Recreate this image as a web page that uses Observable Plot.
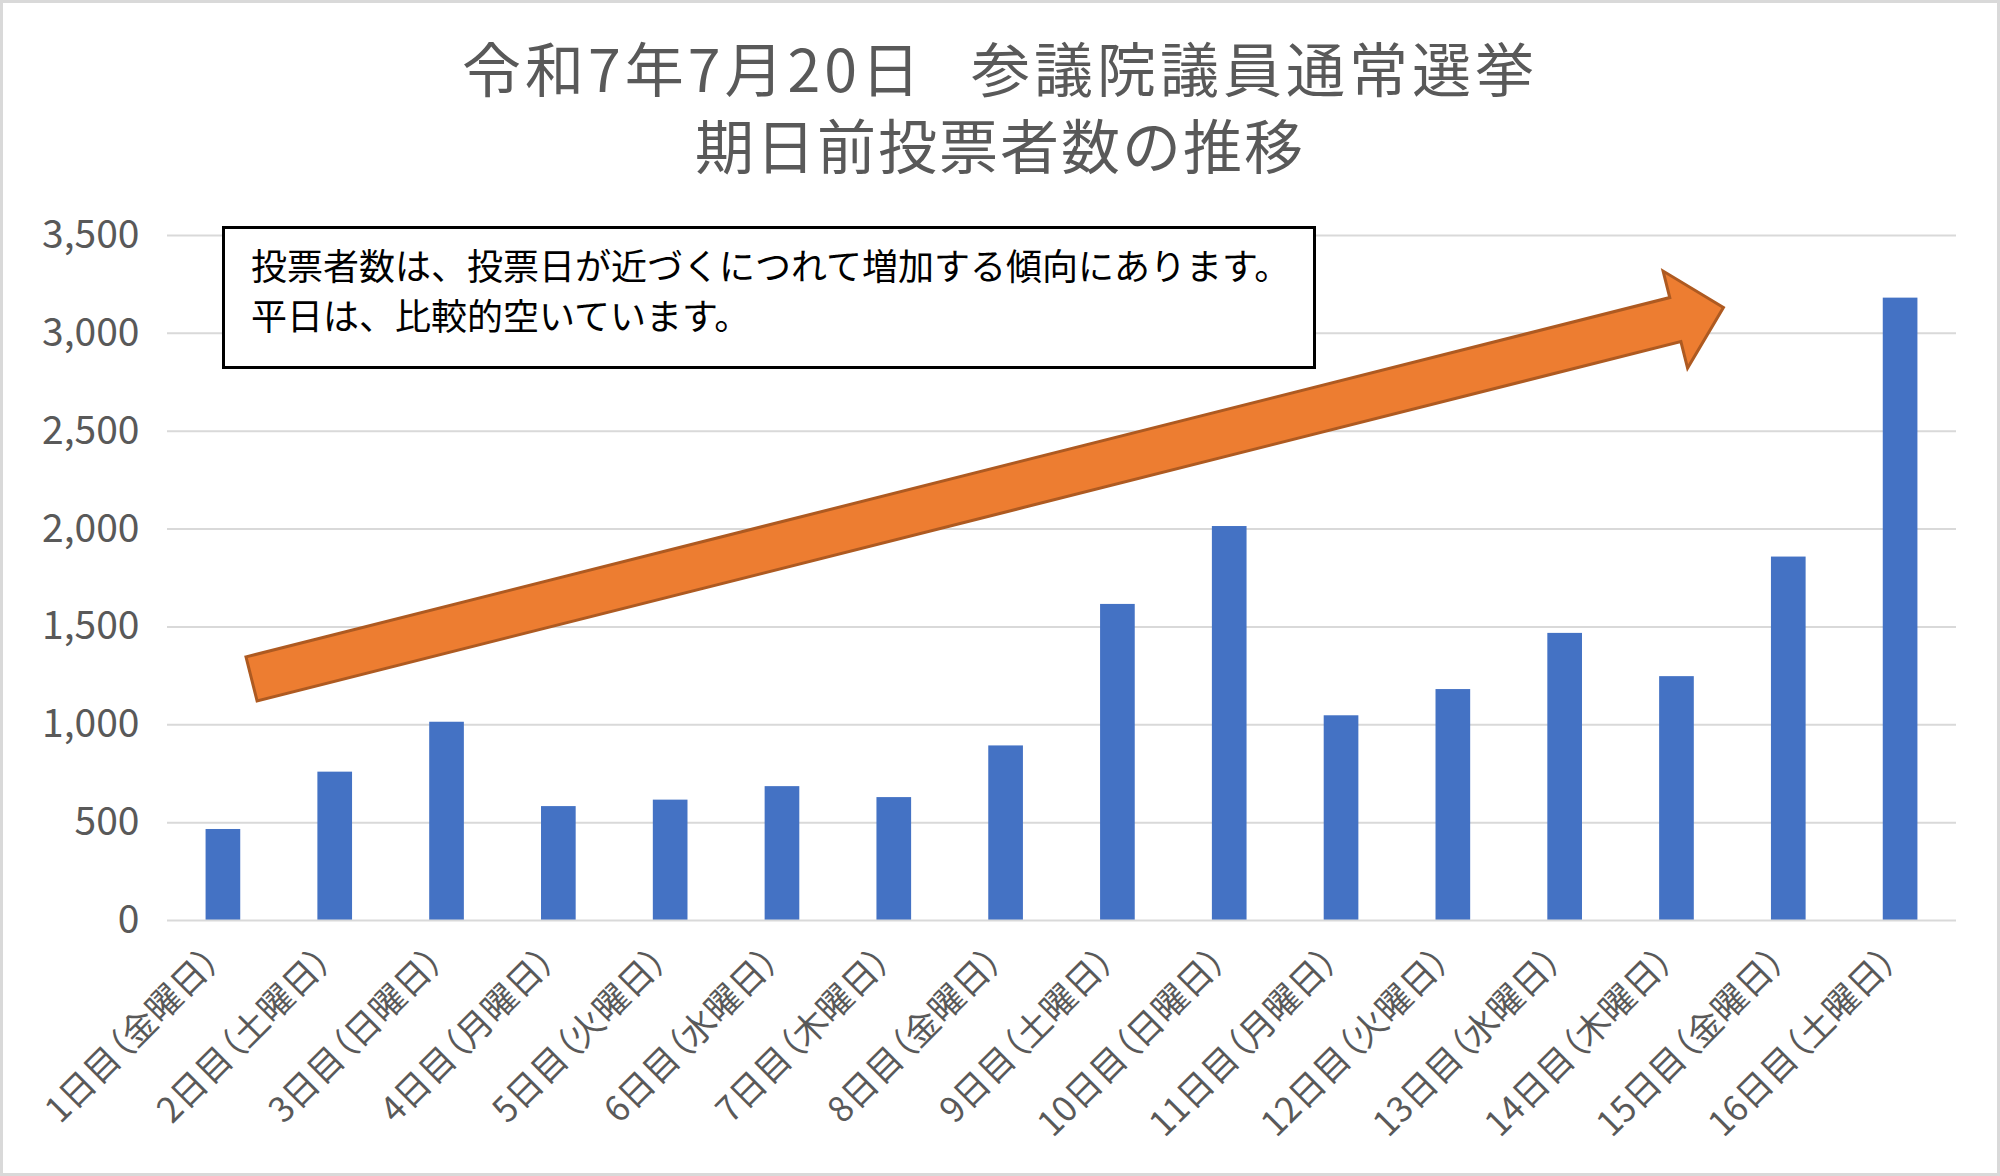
<!DOCTYPE html>
<html><head><meta charset="utf-8">
<script src="https://cdn.jsdelivr.net/npm/d3@7"></script>
<script src="https://cdn.jsdelivr.net/npm/@observablehq/plot@0.6"></script>
<style>
html,body{margin:0;padding:0;background:#fff;overflow:hidden;}
#wrap{position:relative;width:2000px;height:1176px;font-family:"Noto Sans CJK JP","Noto Sans",sans-serif;}
#title{height:200px;box-sizing:border-box;padding-top:28px;text-align:center;font-size:59px;line-height:77px;color:#595959;white-space:nowrap;}
#title .l1{letter-spacing:4px;}
#title .l2{letter-spacing:2px;}
#title .sp{letter-spacing:-12px;}
#chart svg{display:block;}
#chart svg text{font-feature-settings:"palt";}
#chart g[aria-label="y-labels"] text{letter-spacing:2.5px;}
#note{position:absolute;left:222px;top:226px;width:1094px;height:143px;box-sizing:border-box;border:3px solid #000;background:#fff;padding:10px 0 0 26px;font-size:36px;line-height:50px;color:#000;white-space:nowrap;}
#frame{position:absolute;left:0;top:0;right:0;bottom:0;border:3px solid #d9d9d9;pointer-events:none;}
</style></head>
<body>
<div id="wrap">
  <div id="title"></div>
  <div id="chart"></div>
  <div id="note"></div>
  <div id="frame"></div>
</div>
<script>
const titleParts = ["令和7年7月20日", "参議院議員通常選挙"];
const subtitle = "期日前投票者数の推移";
const noteLines = ["投票者数は、投票日が近づくにつれて増加する傾向にあります。", "平日は、比較的空いています。"];
const days = [
  "1日目（金曜日）","2日目（土曜日）","3日目（日曜日）","4日目（月曜日）",
  "5日目（火曜日）","6日目（水曜日）","7日目（木曜日）","8日目（金曜日）",
  "9日目（土曜日）","10日目（日曜日）","11日目（月曜日）","12日目（火曜日）",
  "13日目（水曜日）","14日目（木曜日）","15日目（金曜日）","16日目（土曜日）"
];
const voters = [465, 758, 1013, 582, 615, 684, 628, 892, 1615, 2013, 1046, 1180, 1467, 1246, 1857, 3180];
const yTicks = [0, 500, 1000, 1500, 2000, 2500, 3000, 3500];
// trend arrow annotation: position in category steps from the left edge, value on the y scale
const arrowFrom = {pos: 0.756, value: 1232};
const arrowTo = {pos: 13.92, value: 3130};

document.getElementById("title").innerHTML =
  '<span class="l1">' + titleParts[0] + '<span class="sp">　</span>' + titleParts[1] + '</span><br><span class="l2">' + subtitle + '</span>';
document.getElementById("note").innerHTML = noteLines.join("<br>");

const data = days.map((d, i) => ({day: d, value: voters[i]}));
const font = '"Noto Sans CJK JP","Noto Sans",sans-serif';

const chart = Plot.plot({
  width: 2000,
  height: 976,
  marginLeft: 167,
  marginRight: 44,
  marginTop: 35,
  marginBottom: 256,
  style: {fontFamily: font, background: "transparent", overflow: "visible"},
  x: {domain: days, paddingInner: 0.69, paddingOuter: 0.345, align: 0.5, round: false, axis: null},
  y: {domain: [0, 3500], axis: null},
  marks: [
    Plot.ruleY(yTicks.filter(t => t > 0), {y: d => d, stroke: "#d9d9d9", strokeWidth: 2}),
    Plot.barY(data, {x: "day", y: "value", fill: "#4472C4"}),
    Plot.ruleY([0], {stroke: "#d9d9d9", strokeWidth: 2}),
    Plot.text(yTicks, {y: d => d, frameAnchor: "left", dx: -28, textAnchor: "end", ariaLabel: "y-labels",
      text: d => d.toLocaleString("en-US"), fontSize: 39, fill: "#595959"}),
    Plot.text(days, {x: d => d, frameAnchor: "bottom", rotate: -45, textAnchor: "end",
      dx: -1, dy: 42, fontSize: 35, fill: "#595959"})
  ]
});
document.getElementById("chart").appendChild(chart);

// draw the block arrow using the chart's scales
const xs = chart.scale("x"), ys = chart.scale("y");
const step = (xs.range[1] - xs.range[0]) / days.length;
const px = p => xs.range[0] + p * step;
const py = v => ys.range[0] + (v - ys.domain[0]) / (ys.domain[1] - ys.domain[0]) * (ys.range[1] - ys.range[0]);
const T = [px(arrowFrom.pos), py(arrowFrom.value)];
const P = [px(arrowTo.pos), py(arrowTo.value)];
const len = Math.hypot(P[0] - T[0], P[1] - T[1]);
const u = [(P[0] - T[0]) / len, (P[1] - T[1]) / len];
const n = [-u[1], u[0]];
const shaftHalf = 22.7, headHalf = 50, headLen = 49.6;
const local = [[0, -shaftHalf], [len - headLen, -shaftHalf], [len - headLen, -headHalf], [len, 0],
               [len - headLen, headHalf], [len - headLen, shaftHalf], [0, shaftHalf]];
const pts = local.map(([a, b]) => [T[0] + a * u[0] + b * n[0], T[1] + a * u[1] + b * n[1]]);
d3.select(chart).append("path")
  .attr("d", "M" + pts.map(p => p.join(",")).join("L") + "Z")
  .attr("fill", "#ED7D31").attr("stroke", "#AE5A21").attr("stroke-width", 3).attr("stroke-linejoin", "miter");
</script>
</body></html>
